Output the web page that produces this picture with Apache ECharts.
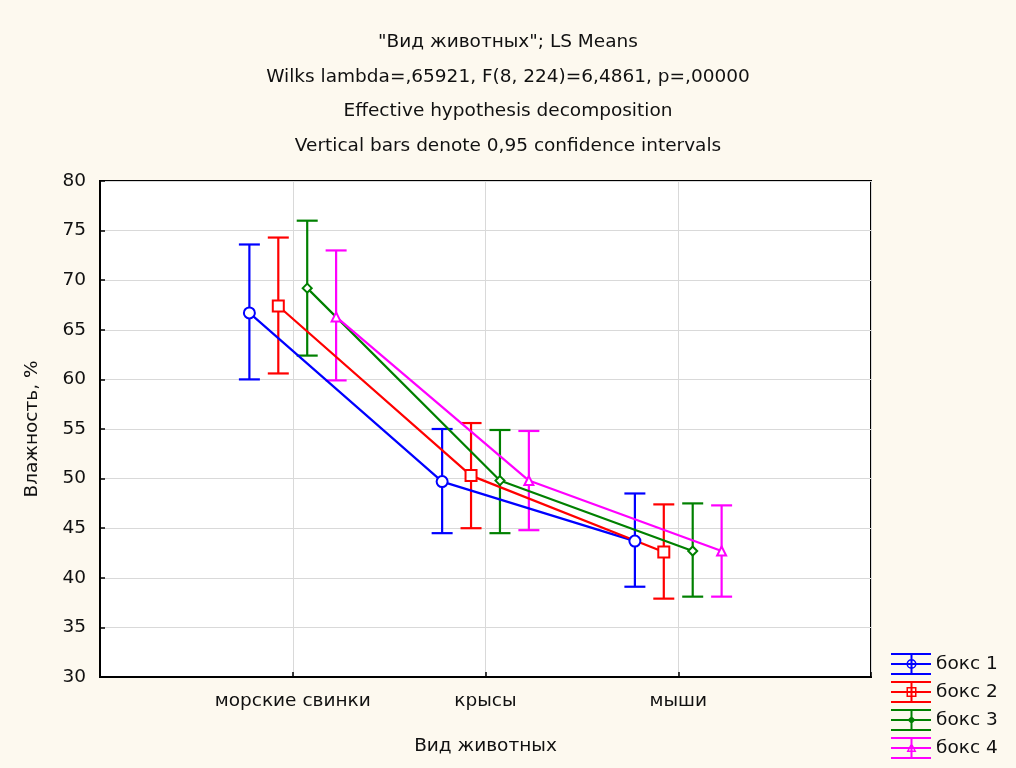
<!DOCTYPE html>
<html>
<head>
<meta charset="utf-8">
<script src="https://cdn.jsdelivr.net/npm/echarts@6/dist/echarts.min.js"></script>
<style>
html,body{margin:0;padding:0;background:#fdf9ef;}
#chart{width:1016px;height:768px;}
</style>
</head>
<body>
<div id="chart"></div>
<script>
var categories = ['морские свинки', 'крысы', 'мыши'];
var seriesNames = ['бокс 1', 'бокс 2', 'бокс 3', 'бокс 4'];
var yTicks = [30, 35, 40, 45, 50, 55, 60, 65, 70, 75, 80];

var box1Mean = [66.7, 49.7, 43.7];
var box1Low  = [60.0, 44.5, 39.1];
var box1High = [73.6, 55.0, 48.5];

var box2Mean = [67.4, 50.3, 42.6];
var box2Low  = [60.6, 45.0, 37.9];
var box2High = [74.3, 55.6, 47.4];

var box3Mean = [69.2, 49.8, 42.7];
var box3Low  = [62.4, 44.5, 38.1];
var box3High = [76.0, 54.9, 47.5];

var box4Mean = [66.3, 49.8, 42.7];
var box4Low  = [59.9, 44.8, 38.1];
var box4High = [73.0, 54.8, 47.3];

var titleLines = [
  '"Вид животных"; LS Means',
  'Wilks lambda=,65921, F(8, 224)=6,4861, p=,00000',
  'Effective hypothesis decomposition',
  'Vertical bars denote 0,95 confidence intervals'
];

var FONT = '"DejaVu Sans", "Liberation Sans", Arial, sans-serif';
var FS = 18.5;
var TXT = '#111';

var means = [box1Mean, box2Mean, box3Mean, box4Mean];
var lows = [box1Low, box2Low, box3Low, box4Low];
var highs = [box1High, box2High, box3High, box4High];
var colors = ['#0000ff', '#ff0000', '#008000', '#ff00ff'];
var offsets = [-0.225, -0.075, 0.075, 0.225];
var symbols = ['emptyCircle', 'emptyRect', 'emptyDiamond', 'emptyTriangle'];
var symbolSizes = [11, 11, 9, 9];

var bars = 'M0 0H40V2H0Z M0 10H40V12H0Z M0 20H40V22H0Z M19.5 0H21.5V22H19.5Z ';
var legendMarks = [
  'M15.5 11A5 5 0 1 1 25.5 11A5 5 0 1 1 15.5 11Z M17 11A3.5 3.5 0 1 0 24 11A3.5 3.5 0 1 0 17 11Z',
  'M15.5 6H25.5V16H15.5Z M17 7.5V14.5H24V7.5Z',
  'M20.5 7L24.5 11L20.5 15L16.5 11Z',
  'M20.5 5.5L25.5 15L15.5 15Z M20.5 8.8L17.8 13.6L23.2 13.6Z'
];

var series = [];
seriesNames.forEach(function (name, s) {
  var ebData = categories.map(function (c, i) {
    return [i + 1 + offsets[s], lows[s][i], highs[s][i]];
  });
  series.push({
    name: name + ' CI',
    type: 'custom',
    data: ebData,
    z: 2,
    encode: { x: 0, y: [1, 2] },
    renderItem: function (params, api) {
      var x = api.value(0);
      var lo = api.coord([x, api.value(1)]);
      var hi = api.coord([x, api.value(2)]);
      var hw = 10.5;
      var st = { stroke: colors[s], lineWidth: 2.2 };
      return {
        type: 'group',
        children: [
          { type: 'line', shape: { x1: lo[0], y1: lo[1], x2: hi[0], y2: hi[1] }, style: st },
          { type: 'line', shape: { x1: lo[0] - hw, y1: lo[1], x2: lo[0] + hw, y2: lo[1] }, style: st },
          { type: 'line', shape: { x1: hi[0] - hw, y1: hi[1], x2: hi[0] + hw, y2: hi[1] }, style: st }
        ]
      };
    }
  });
});
seriesNames.forEach(function (name, s) {
  series.push({
    name: name,
    type: 'line',
    z: 3,
    data: categories.map(function (c, i) { return [i + 1 + offsets[s], means[s][i]]; }),
    symbol: symbols[s],
    symbolSize: symbolSizes[s],
    showAllSymbol: true,
    lineStyle: { color: colors[s], width: 2.2 },
    itemStyle: { color: colors[s], borderWidth: 2.2 },
    emphasis: { disabled: true },
    animation: false
  });
});

var chart = echarts.init(document.getElementById('chart'));
chart.setOption({
  animation: false,
  backgroundColor: '#fdf9ef',
  textStyle: { fontFamily: FONT },
  title: {
    text: titleLines.join('\n'),
    left: 'center',
    top: 20,
    textStyle: { fontSize: FS, fontWeight: 'normal', color: TXT, lineHeight: 34.5, fontFamily: FONT }
  },
  grid: {
    left: 100, right: 145, top: 181, bottom: 91,
    show: true, backgroundColor: '#ffffff', borderColor: '#000', borderWidth: 2,
    containLabel: false
  },
  xAxis: {
    type: 'value', min: 0, max: 4, interval: 1,
    name: 'Вид животных', nameLocation: 'middle', nameGap: 60,
    nameTextStyle: { fontSize: FS, color: TXT, fontFamily: FONT },
    axisLine: { show: true, lineStyle: { color: '#000', width: 2 } },
    axisTick: { show: true, inside: true, length: 5, lineStyle: { color: '#000', width: 1.5 } },
    axisLabel: {
      fontSize: FS, color: TXT, margin: 15, fontFamily: FONT,
      formatter: function (v) { return (v >= 1 && v <= categories.length) ? categories[v - 1] : ''; }
    },
    splitLine: { show: true, lineStyle: { color: '#d9d9d9', width: 1 } }
  },
  yAxis: {
    type: 'value', min: yTicks[0], max: yTicks[yTicks.length - 1], interval: yTicks[1] - yTicks[0],
    name: 'Влажность, %', nameLocation: 'middle', nameGap: 58,
    nameTextStyle: { fontSize: FS, color: TXT, fontFamily: FONT },
    axisLine: { show: true, lineStyle: { color: '#000', width: 2 } },
    axisTick: { show: true, inside: true, length: 5, lineStyle: { color: '#000', width: 1.5 } },
    axisLabel: { fontSize: FS, color: TXT, margin: 14, fontFamily: FONT },
    splitLine: { show: true, lineStyle: { color: '#d9d9d9', width: 1 } }
  },
  legend: {
    orient: 'vertical',
    left: 886, top: 648,
    itemWidth: 40, itemHeight: 22, itemGap: 6,
    textStyle: { fontSize: FS, color: TXT, fontFamily: FONT },
    selectedMode: false,
    data: seriesNames.map(function (n, s) {
      return { name: n, icon: 'path://' + bars + legendMarks[s], itemStyle: { color: colors[s], borderWidth: 0 } };
    })
  },
  series: series
});
</script>
</body>
</html>
